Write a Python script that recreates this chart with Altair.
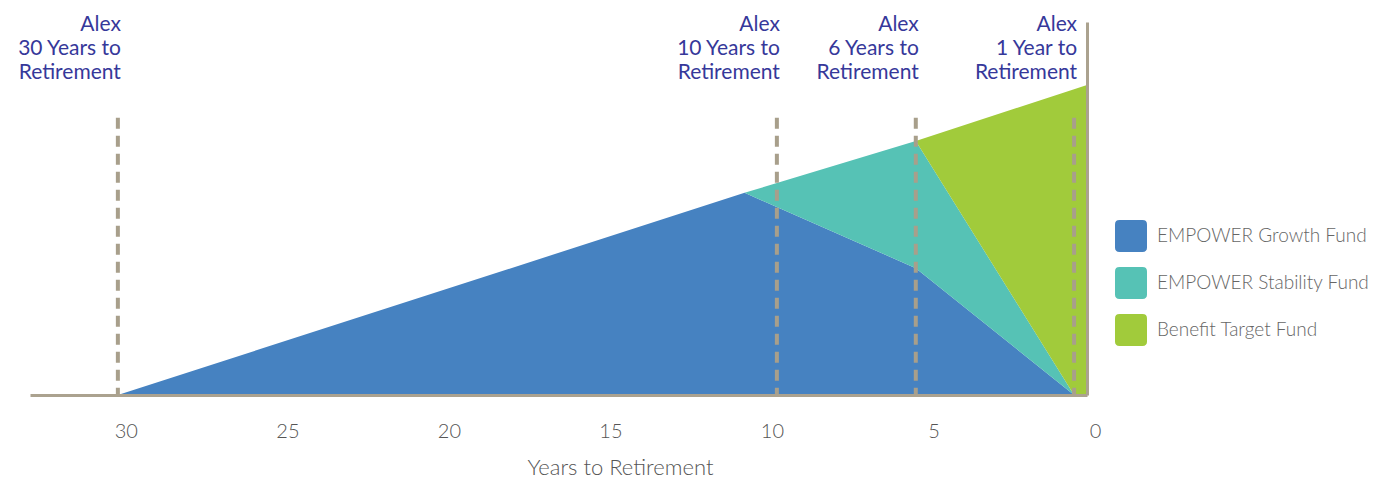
import altair as alt
import pandas as pd

# ---- data ----
years = [30, 10.6, 5.3, 0.4, 0]
growth = [0, 54.2, 34.0, 0, 0]
stability = [0, 0, 34.1, 0, 0]
target = [0, 0, 0, 82.0, 83.1]
funds = ["EMPOWER Growth Fund", "EMPOWER Stability Fund", "Benefit Target Fund"]
colors = ["#4682C1", "#56C2B5", "#A1CB3B"]

milestone_x = [30, 9.6, 5.3, 0.4]
milestone_labels = [
    "Alex\n30 Years to\nRetirement",
    "Alex\n10 Years to\nRetirement",
    "Alex\n6 Years to\nRetirement",
    "Alex\n1 Year to\nRetirement",
]
milestone_top = [74.3, 74.3, 74.3, 74.3]
tick_values = [30, 25, 20, 15, 10, 5, 0]

rows = []
for i, yr in enumerate(years):
    for k, (f, vals) in enumerate(zip(funds, [growth, stability, target])):
        rows.append({"years": yr, "fund": f, "value": vals[i], "order": k})
area_df = pd.DataFrame(rows)

ms_df = pd.DataFrame({
    "years": milestone_x,
    "value": milestone_top,
    "bottom": [0] * len(milestone_x),
    "label": milestone_labels,
})

tan = "#ABA28F"
xscale = alt.Scale(domain=[0, 32.72], reverse=True, nice=False, zero=False)
yscale = alt.Scale(domain=[0, 100], nice=False)

xaxis = alt.Axis(
    values=tick_values, title="Years to Retirement", grid=False, ticks=False,
    domainColor=tan, domainWidth=3, labelFontSize=20, labelFont="Lato",
    labelFontWeight=300, labelColor="#555555", labelPadding=26, labelOffset=8,
    labelFlush=False, labelOverlap=False, titleFontSize=22, titleFont="Lato",
    titleFontWeight=300, titleColor="#555555", titleX=590, titleY=79,
    titleBaseline="alphabetic", zindex=1)
yaxis = alt.Axis(
    orient="right", labels=False, ticks=False, grid=False, title=None,
    domainColor=tan, domainWidth=3, zindex=1)

rounded_square = ("M -0.72,-1 L 0.72,-1 Q 1,-1 1,-0.72 L 1,0.72 Q 1,1 0.72,1 "
                  "L -0.72,1 Q -1,1 -1,0.72 L -1,-0.72 Q -1,-1 -0.72,-1 Z")

area = alt.Chart(area_df).mark_area(interpolate="linear", opacity=1).encode(
    x=alt.X("years:Q", scale=xscale, axis=xaxis),
    y=alt.Y("value:Q", stack="zero", scale=yscale, axis=yaxis),
    color=alt.Color("fund:N", scale=alt.Scale(domain=funds, range=colors), legend=alt.Legend(
        title=None, orient="none", legendX=1085, legendY=198, symbolType=rounded_square,
        symbolSize=1024, symbolStrokeWidth=0, symbolOpacity=1, labelFontSize=19,
        labelFont="Lato", labelFontWeight=300, labelColor="#666666", labelOffset=10,
        rowPadding=15, padding=0, labelLimit=300)),
    order=alt.Order("order:Q", sort="ascending"),
)

rules = alt.Chart(ms_df).mark_rule(color="#A89F8B", strokeWidth=4, strokeDash=[11, 7]).encode(
    x=alt.X("years:Q", scale=xscale, axis=xaxis),
    y=alt.Y("value:Q", scale=yscale, axis=yaxis),
    y2="bottom:Q",
)

texts = alt.Chart(ms_df).mark_text(
    align="right", baseline="top", dx=3, lineBreak="\n", lineHeight=24,
    fontSize=21, font="Lato", color="#36389A",
).encode(
    x=alt.X("years:Q", scale=xscale, axis=xaxis),
    y=alt.value(-8),
    text="label:N",
)

chart = alt.layer(area, rules, texts).properties(
    width=1057, height=373,
    padding={"left": 22, "top": 14, "right": 290, "bottom": 86},
    autosize=alt.AutoSizeParams(type="none"),
    background="white",
).configure_view(stroke=None)

chart.save("out.html", embed_options={"renderer": "svg", "actions": False})
